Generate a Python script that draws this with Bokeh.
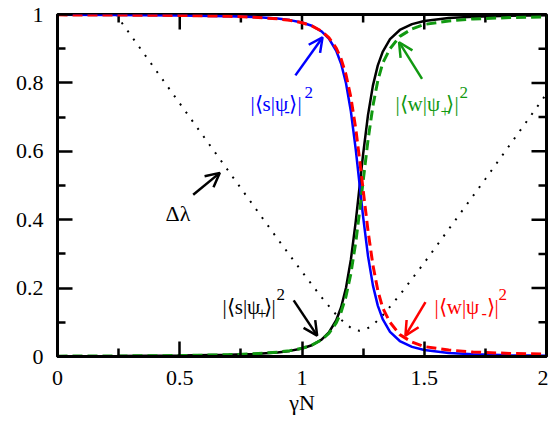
import math
from bokeh.plotting import figure
from bokeh.models import Label, Arrow, OpenHead, FixedTicker, LinearAxis, Range1d
from bokeh.embed import file_html
from bokeh.resources import INLINE

# ---- data ----
gamma_n = [0, 0.25, 0.5, 0.7, 0.8, 0.9, 0.95, 1.0, 1.04, 1.08, 1.11, 1.14, 1.16, 1.18,
           1.20, 1.22, 1.236, 1.25, 1.27, 1.29, 1.31, 1.33, 1.36, 1.40, 1.45, 1.5,
           1.6, 1.7, 1.85, 2.0]
s_psi_plus = [0.0009, 0.0014, 0.0026, 0.0048, 0.0072, 0.0120, 0.0164, 0.0235, 0.0330,
              0.0494, 0.0704, 0.1060, 0.1441, 0.2009, 0.2836, 0.3957, 0.5000, 0.5917,
              0.7064, 0.7921, 0.8512, 0.8909, 0.9278, 0.9547, 0.9719, 0.9810, 0.9897,
              0.9936, 0.9963, 0.9976]
s_psi_minus = [0.9991, 0.9986, 0.9974, 0.9952, 0.9928, 0.9880, 0.9836, 0.9765, 0.9670,
               0.9506, 0.9296, 0.8940, 0.8559, 0.7991, 0.7164, 0.6043, 0.5000, 0.4083,
               0.2936, 0.2079, 0.1488, 0.1091, 0.0722, 0.0453, 0.0281, 0.0190, 0.0103,
               0.0064, 0.0037, 0.0024]
w_psi_plus = [0.0010, 0.0016, 0.0028, 0.0052, 0.0078, 0.0127, 0.0171, 0.0241, 0.0333,
              0.0486, 0.0674, 0.0982, 0.1300, 0.1762, 0.2428, 0.3348, 0.4258, 0.5125,
              0.6326, 0.7324, 0.8063, 0.8579, 0.900, 0.936, 0.958, 0.971, 0.981,
              0.987, 0.991, 0.993]
w_psi_minus = [0.9990, 0.9984, 0.9972, 0.9948, 0.9922, 0.9873, 0.9829, 0.9759, 0.9667,
               0.9514, 0.9326, 0.9018, 0.8700, 0.8238, 0.7572, 0.6652, 0.5742, 0.4875,
               0.3674, 0.2676, 0.1937, 0.1421, 0.100, 0.064, 0.042, 0.029, 0.019,
               0.013, 0.009, 0.007]
gamma_n_dl = [0, 0.24, 0.5, 0.75, 0.9, 1.0, 1.08, 1.14, 1.18, 1.21, 1.236, 1.26, 1.29,
              1.33, 1.4, 1.5, 1.75, 2.0]
delta_lambda = [1.238, 0.999, 0.740, 0.492, 0.344, 0.248, 0.173, 0.122, 0.094, 0.079,
                0.075, 0.079, 0.092, 0.120, 0.180, 0.274, 0.519, 0.768]

x_ticks = [0, 0.5, 1, 1.5, 2]
x_tick_labels = ["0", "0.5", "1", "1.5", "2"]
x_minor = [0.25, 0.75, 1.25, 1.75]
y_ticks = [0, 0.2, 0.4, 0.6, 0.8, 1]
y_tick_labels = ["0", "0.2", "0.4", "0.6", "0.8", "1"]
y_minor = [0.1, 0.3, 0.5, 0.7, 0.9]

FONT = "Liberation Serif"
BLUE, RED, GREEN = "#0000ff", "#ff0000", "#119911"
X0, X1, Y0, Y1 = 0, 2, 0, 1

p = figure(width=548, height=422, x_range=Range1d(X0, X1), y_range=Range1d(Y0, Y1),
           output_backend="svg", toolbar_location=None,
           x_axis_location=None, y_axis_location=None,
           min_border_left=57, min_border_right=2, min_border_top=14, min_border_bottom=66)
p.xgrid.visible = False
p.ygrid.visible = False
p.outline_line_color = "black"
p.outline_line_width = 3
p.background_fill_color = "white"
p.border_fill_color = "white"

xt = FixedTicker(ticks=x_ticks, minor_ticks=x_minor)
yt = FixedTicker(ticks=y_ticks, minor_ticks=y_minor)
xaxis = LinearAxis(ticker=xt, axis_label="γN",
                   major_label_overrides=dict(zip(x_ticks, x_tick_labels)))
yaxis = LinearAxis(ticker=yt, major_label_overrides=dict(zip(y_ticks, y_tick_labels)))

for ax in [xaxis, yaxis]:
    ax.major_tick_in = 15
    ax.major_tick_out = 0
    ax.minor_tick_in = 8
    ax.minor_tick_out = 0
    ax.major_tick_line_width = 2.5
    ax.minor_tick_line_width = 2.5
    ax.axis_line_width = 3
    ax.major_tick_line_color = "black"
    ax.minor_tick_line_color = "black"
    ax.axis_line_color = "black"
    ax.major_label_text_font = FONT
    ax.major_label_text_font_size = "22px"
    ax.major_label_text_color = "black"
    ax.major_label_standoff = 14
    ax.axis_label_text_font = FONT
    ax.axis_label_text_font_size = "22px"
    ax.axis_label_text_font_style = "normal"
    ax.axis_label_text_color = "black"
    ax.axis_label_standoff = 2
p.add_layout(xaxis, "below")
p.add_layout(yaxis, "left")

# mirrored ticks on the top and right edges
d90 = math.pi / 2
p.ray(x=x_ticks, y=Y1, length=15, length_units="screen", angle=-d90,
      line_color="black", line_width=2.5)
p.ray(x=x_minor, y=Y1, length=8, length_units="screen", angle=-d90,
      line_color="black", line_width=2.5)
p.ray(x=X1, y=y_ticks, length=15, length_units="screen", angle=math.pi,
      line_color="black", line_width=2.5)
p.ray(x=X1, y=y_minor, length=8, length_units="screen", angle=math.pi,
      line_color="black", line_width=2.5)

# curves
p.line(gamma_n_dl, delta_lambda, line_color="black", line_width=2, line_dash="2 8")
p.line(gamma_n, s_psi_plus, line_color="black", line_width=2.5)
p.line(gamma_n, s_psi_minus, line_color=BLUE, line_width=2.5)
p.line(gamma_n, w_psi_plus, line_color=GREEN, line_width=3, line_dash="10 5")
p.line(gamma_n, w_psi_minus, line_color=RED, line_width=3, line_dash="10 5")


def arrow(x0, y0, x1, y1, color):
    p.add_layout(Arrow(x_start=x0, y_start=y0, x_end=x1, y_end=y1,
                       line_color=color, line_width=2.5,
                       end=OpenHead(size=14, line_color=color, line_width=2.5)))


def label(x0, y0, parts, color):
    for text, dx, dy, size in parts:
        p.add_layout(Label(x=x0, y=y0, x_offset=dx, y_offset=dy, text=text,
                           text_font=FONT, text_font_size=f"{size}px", text_color=color,
                           text_baseline="alphabetic", text_align="left"))


arrow(0.973, 0.822, 1.084, 0.933, BLUE)
arrow(1.491, 0.812, 1.397, 0.919, GREEN)
arrow(0.555, 0.473, 0.664, 0.537, "black")
arrow(0.966, 0.164, 1.062, 0.061, "black")
arrow(1.505, 0.159, 1.423, 0.061, RED)

label(0.789, 0.737, [("|⟨s|ψ", 0, 0, 21), ("-", 34, -7, 16), ("⟩|", 39, 0, 21),
                     ("2", 54, 12, 17)], BLUE)
label(1.382, 0.737, [("|⟨w|ψ", 0, 0, 21), ("+", 45, -7, 16), ("⟩|", 51, 0, 21),
                     ("2", 64, 12, 17)], GREEN)
label(0.675, 0.146, [("|⟨s|ψ", 0, 0, 21), ("+", 35, -7, 16), ("⟩|", 41, 0, 21),
                     ("2", 54, 12, 17)], "black")
label(1.542, 0.146, [("|⟨w|ψ", 0, 0, 21), ("-", 47, -7, 16), ("⟩|", 52, 0, 21),
                     ("2", 64, 12, 17)], RED)
label(0.442, 0.418, [("Δλ", 0, 0, 22)], "black")

open("out.html", "w").write(file_html(p, INLINE))
